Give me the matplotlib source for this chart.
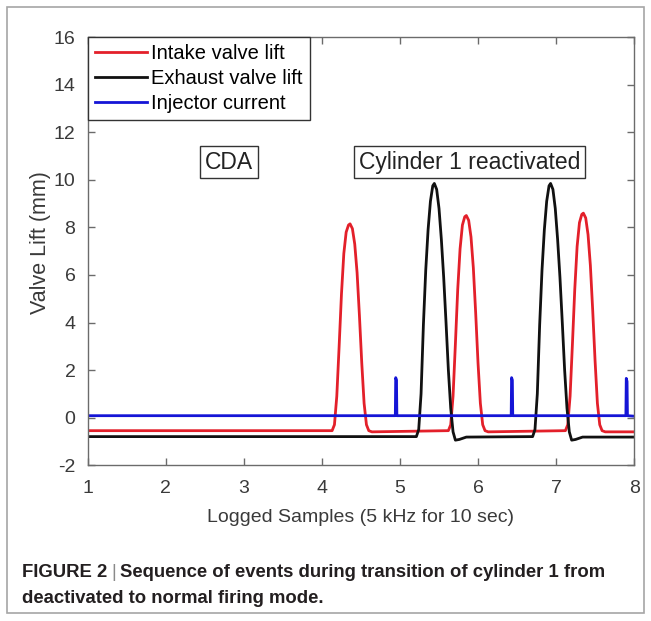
import matplotlib
matplotlib.use("Agg")
import matplotlib.pyplot as plt
from matplotlib.patches import Rectangle

plt.rcParams['font.family'] = ['Liberation Sans', 'DejaVu Sans']
plt.rcParams['axes.unicode_minus'] = False

# ---- data ----
intake_x = [1.0,
            4.13, 4.16, 4.19, 4.22, 4.25, 4.28, 4.31, 4.34, 4.36, 4.39, 4.42, 4.45, 4.48, 4.51, 4.54, 4.57, 4.60, 4.64,
            5.62, 5.65, 5.68, 5.71, 5.74, 5.77, 5.80, 5.83, 5.85, 5.88, 5.91, 5.94, 5.97, 6.00, 6.03, 6.06, 6.09, 6.13,
            7.12, 7.15, 7.18, 7.21, 7.24, 7.27, 7.30, 7.33, 7.35, 7.38, 7.41, 7.44, 7.47, 7.50, 7.53, 7.56, 7.59, 7.63,
            8.0]
intake_y = [-0.55,
            -0.55, -0.3, 0.9, 3.0, 5.2, 6.9, 7.8, 8.1, 8.15, 7.95, 7.3, 6.1, 4.3, 2.3, 0.6, -0.3, -0.55, -0.6,
            -0.55, -0.3, 0.9, 3.1, 5.4, 7.1, 8.1, 8.45, 8.5, 8.3, 7.6, 6.3, 4.4, 2.3, 0.6, -0.3, -0.55, -0.6,
            -0.55, -0.3, 0.9, 3.1, 5.4, 7.2, 8.2, 8.55, 8.6, 8.4, 7.7, 6.4, 4.5, 2.4, 0.6, -0.3, -0.55, -0.6,
            -0.6]

exhaust_x = [1.0,
             5.21, 5.24, 5.27, 5.30, 5.33, 5.36, 5.39, 5.42, 5.44, 5.47, 5.50, 5.53, 5.56, 5.59, 5.62, 5.65, 5.68, 5.71, 5.76, 5.85,
             6.70, 6.73, 6.76, 6.79, 6.82, 6.85, 6.88, 6.91, 6.93, 6.96, 6.99, 7.02, 7.05, 7.08, 7.11, 7.14, 7.17, 7.20, 7.25, 7.34,
             8.0]
exhaust_y = [-0.8,
             -0.8, -0.5, 1.0, 3.9, 6.2, 7.9, 9.1, 9.75, 9.85, 9.6, 8.8, 7.5, 5.9, 4.0, 2.0, 0.4, -0.6, -0.95, -0.92, -0.82,
             -0.8, -0.5, 1.0, 3.9, 6.2, 7.9, 9.1, 9.75, 9.85, 9.6, 8.8, 7.5, 5.9, 4.0, 2.0, 0.4, -0.6, -0.95, -0.92, -0.82,
             -0.82]

injector_x = [1.0, 4.94, 4.945, 4.955, 4.96, 6.425, 6.43, 6.44, 6.445, 7.895, 7.90, 7.91, 7.915, 8.0]
injector_y = [0.08, 0.08, 1.68, 1.58, 0.08, 0.08, 1.68, 1.58, 0.08, 0.08, 1.65, 1.52, 0.08, 0.06]

series_labels = ["Intake valve lift", "Exhaust valve lift", "Injector current"]
x_ticks = [1, 2, 3, 4, 5, 6, 7, 8]
y_ticks = [-2, 0, 2, 4, 6, 8, 10, 12, 14, 16]

AXIS_GRAY = "#6b6b6b"
TEXT_GRAY = "#3a3a3a"
CAPTION = "#231f20"

fig = plt.figure(figsize=(6.51, 6.21), dpi=100)

# outer frame of the figure panel
fig.patches.append(Rectangle((0.0108, 0.0129), 0.978, 0.976, transform=fig.transFigure,
                             fill=False, edgecolor="#a6a6a6", linewidth=1.2))

ax = fig.add_axes([0.135, 0.251, 0.839, 0.689])
ax.plot(intake_x, intake_y, color="#e3202a", linewidth=2.0, label=series_labels[0])
ax.plot(exhaust_x, exhaust_y, color="#111111", linewidth=2.0, label=series_labels[1])
ax.plot(injector_x, injector_y, color="#1515d6", linewidth=2.0, label=series_labels[2])

ax.set_xlim(1, 8)
ax.set_ylim(-2, 16)
ax.set_xticks(x_ticks)
ax.set_yticks(y_ticks)
ax.tick_params(direction="in", top=True, right=True, length=5, width=1,
               colors=AXIS_GRAY, labelcolor=TEXT_GRAY, labelsize=14)
ax.tick_params(axis="x", pad=11)
ax.tick_params(axis="y", pad=9)
for s in ax.spines.values():
    s.set_color(AXIS_GRAY)
    s.set_linewidth(1.0)

ax.set_xlabel("Logged Samples (5 kHz for 10 sec)", fontsize=14, color=TEXT_GRAY, labelpad=8)
ax.set_ylabel("Valve Lift (mm)", fontsize=15.5, color=TEXT_GRAY)
ax.yaxis.set_label_coords(-0.067, 0.52)

leg = ax.legend(loc="upper left", bbox_to_anchor=(0, 1), borderaxespad=0, fancybox=False,
                fontsize=14.5, handlelength=2.6, handletextpad=0.2, borderpad=0.35,
                labelspacing=0.3, framealpha=1)
leg.get_frame().set_edgecolor("#333333")
leg.get_frame().set_linewidth(1.0)

box = dict(boxstyle="square,pad=0.2", facecolor="white", edgecolor="#333333", linewidth=1.0)
ax.text(2.81, 10.75, "CDA", fontsize=16.5, color="#222222", ha="center", va="center", bbox=box)
ax.text(5.89, 10.75, "Cylinder 1 reactivated", fontsize=16.5, color="#222222",
        ha="center", va="center", bbox=box)

# caption: bold title, thin separator, bold text
fig.canvas.draw()
renderer = fig.canvas.get_renderer()
t1 = fig.text(0.034, 0.0773, "FIGURE 2", fontsize=13.3, fontweight="bold",
              color=CAPTION, va="center", ha="left")
w1 = t1.get_window_extent(renderer=renderer).width / fig.bbox.width
t2 = fig.text(0.034 + w1 + 0.006, 0.0773, "|", fontsize=13.3, fontweight="light",
              color="#8a8a8a", va="center", ha="left")
w2 = t2.get_window_extent(renderer=renderer).width / fig.bbox.width
fig.text(0.034 + w1 + w2 + 0.012, 0.0773, "Sequence of events during transition of cylinder 1 from",
         fontsize=13.3, fontweight="bold", color=CAPTION, va="center", ha="left")
fig.text(0.034, 0.037, "deactivated to normal firing mode.",
         fontsize=13.3, fontweight="bold", color=CAPTION, va="center", ha="left")

fig.savefig("out.png", dpi=100)
